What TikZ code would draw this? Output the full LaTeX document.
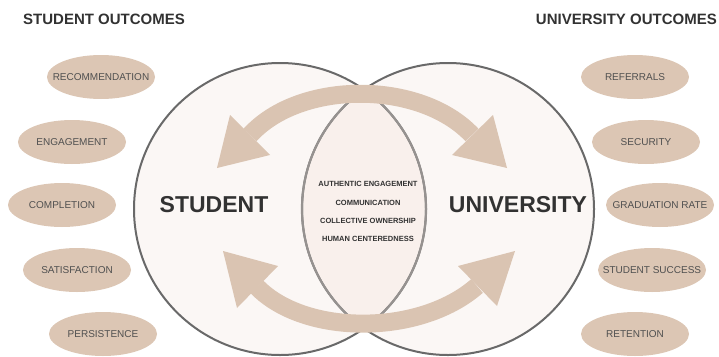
\documentclass[tikz,border=0pt]{standalone}
\usepackage{fontspec}
\setmainfont{Liberation Sans}
\usetikzlibrary{shapes.geometric}
\definecolor{tan}{RGB}{220,198,180}
\definecolor{arrowtan}{RGB}{218,196,178}
\definecolor{circfill}{RGB}{251,247,245}
\definecolor{lensfill}{RGB}{249,240,236}
\definecolor{outline}{RGB}{105,105,105}
\definecolor{innerline}{RGB}{150,146,144}
\definecolor{headtxt}{RGB}{50,50,50}
\definecolor{ovaltxt}{RGB}{80,80,80}
\tikzset{
  oval/.style={ellipse, fill=tan, minimum width=108pt, minimum height=44pt, inner sep=0pt},
  ovaltext/.style={text=ovaltxt, font=\fontsize{10}{12}\selectfont, inner sep=0pt},
  heading/.style={text=headtxt, font=\fontsize{15}{18}\selectfont\bfseries, inner sep=0pt},
  bigname/.style={text=headtxt, font=\fontsize{23}{26}\selectfont\bfseries, inner sep=0pt},
  lenstxt/.style={text=headtxt, font=\fontsize{7.5}{9}\selectfont\bfseries, inner sep=0pt},
  shaft/.style={draw=arrowtan, line width=18pt},
  ahead/.style={fill=arrowtan},
}
\newcommand{\ovalnode}[3]{\node[oval, label={[ovaltext]center:#3}] (#1) at (#2) {};}
\begin{document}
\begin{tikzpicture}[x=1pt,y=-1pt]
\useasboundingbox (0,0) rectangle (719,356);
% circles
\coordinate (cl) at (280,209);
\coordinate (cr) at (448,209);
\fill[circfill] (cl) circle (146);
\fill[circfill] (cr) circle (146);
\begin{scope}
  \clip (cl) circle (146);
  \fill[lensfill] (cr) circle (146);
\end{scope}
\draw[outline, line width=2pt] (cl) circle (146);
\draw[outline, line width=2pt] (cr) circle (146);
\begin{scope}
  \clip (cl) circle (146);
  \draw[innerline, line width=2.2pt] (cr) circle (146);
\end{scope}
\begin{scope}
  \clip (cr) circle (146);
  \draw[innerline, line width=2.2pt] (cl) circle (146);
\end{scope}
% headings
\node[heading, anchor=west] (ho) at (23,19) {STUDENT OUTCOMES};
\node[heading, anchor=east] (uo) at (717,19) {UNIVERSITY OUTCOMES};
% big names
\node[bigname] (stu) at (214,205) {STUDENT};
\node[bigname] (uni) at (518,205) {UNIVERSITY};
% lens texts
\node[lenstxt] (t1) at (368,184) {AUTHENTIC ENGAGEMENT};
\node[lenstxt] (t2) at (368,203) {COMMUNICATION};
\node[lenstxt] (t3) at (368,221) {COLLECTIVE OWNERSHIP};
\node[lenstxt] (t4) at (368,239) {HUMAN CENTEREDNESS};
% left ovals
\ovalnode{o1}{101,77}{RECOMMENDATION}
\ovalnode{o2}{72,142}{ENGAGEMENT}
\ovalnode{o3}{62,205}{COMPLETION}
\ovalnode{o4}{77,270}{SATISFACTION}
\ovalnode{o5}{103,334}{PERSISTENCE}
% right ovals
\ovalnode{p1}{635,77}{REFERRALS}
\ovalnode{p2}{646,142}{SECURITY}
\ovalnode{p3}{660,205}{GRADUATION RATE}
\ovalnode{p4}{652,270}{STUDENT SUCCESS}
\ovalnode{p5}{635,334}{RETENTION}
% top arrow
\coordinate (ta) at (250,135);
\coordinate (tb) at (472,135);
\draw[shaft] (ta) .. controls (300,80) and (420,80) .. (tb);
\fill[ahead] (217,168) -- (230,115) -- (270,155) -- cycle;
\fill[ahead] (507,168) -- (493,115) -- (452,155) -- cycle;
% bottom arrow
\coordinate (ba) at (257,287);
\coordinate (bb) at (477,286);
\draw[shaft] (ba) .. controls (305,336) and (420,336) .. (bb);
\fill[ahead] (223,251) -- (237,308) -- (278,266) -- cycle;
\fill[ahead] (515,251) -- (458,266) -- (497,306) -- cycle;
\end{tikzpicture}
\end{document}
